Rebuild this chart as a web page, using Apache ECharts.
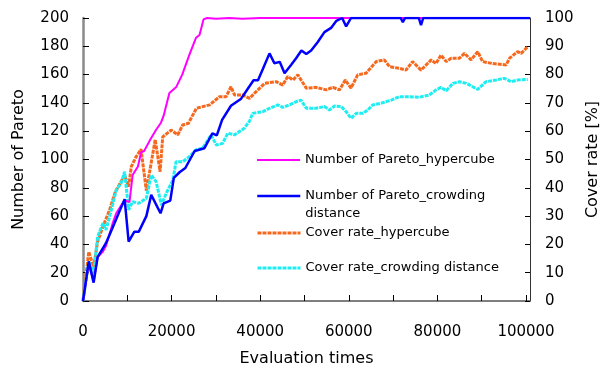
<!DOCTYPE html>
<html>
<head>
<meta charset="utf-8">
<script src="https://cdn.jsdelivr.net/npm/echarts@6/dist/echarts.min.js"></script>
<style>
  html, body { margin: 0; padding: 0; background: #fff; }
  #chart { width: 600px; height: 368px; }
</style>
</head>
<body>
<div id="chart"></div>
<script>
// Series names
const nameHcPareto = 'Number of Pareto_hypercube';
const nameCdPareto = 'Number of Pareto_crowding distance';
const nameHcCover = 'Cover rate_hypercube';
const nameCdCover = 'Cover rate_crowding distance';

// Number of Pareto solutions, hypercube method: [evaluations, count]
const hcPareto = [
  [0, 0], [1300, 26], [2400, 14], [3300, 31], [4500, 35], [5200, 39], [6700, 55],
  [7500, 62], [8500, 67], [9400, 71], [10500, 70], [11200, 89], [12400, 95],
  [13100, 105], [13800, 106], [15000, 113], [16500, 121], [17600, 126], [18200, 131],
  [19500, 147], [21000, 151], [22400, 160], [24000, 174], [25500, 186], [26300, 188],
  [27200, 199], [28000, 200], [30000, 199.5], [33000, 200], [36000, 199.5],
  [40000, 200], [50000, 200], [60000, 200], [80000, 200], [100900, 200]
];

// Number of Pareto solutions, crowding distance method
const cdPareto = [
  [0, 0], [1300, 28], [2400, 13], [3300, 31], [5200, 41], [6700, 52], [9400, 72],
  [10300, 42], [11600, 49], [12600, 49], [14300, 60], [15400, 75], [17500, 62],
  [18200, 69], [19700, 71], [20500, 87], [21800, 91], [23100, 94], [25200, 106],
  [27400, 108], [29200, 118.5], [30200, 117], [31400, 128], [33400, 138], [35700, 143],
  [37200, 150], [38500, 156], [39500, 156], [40600, 164], [42100, 175], [43200, 168],
  [44400, 169], [45500, 161], [47000, 167], [48100, 171.5], [49300, 177], [50400, 174.5],
  [51500, 177], [53000, 183], [54500, 190], [56000, 193], [57200, 198], [58500, 200],
  [59400, 194], [60500, 200], [62000, 200], [71700, 200], [72200, 197], [72700, 200],
  [75800, 200], [76300, 195], [76800, 200], [100900, 200]
];

// Cover rate [%], hypercube method
const hcCover = [
  [0, 0], [1300, 17.4], [2400, 12], [3300, 21], [4500, 26.3], [6000, 32.2], [7300, 38.6],
  [8600, 42.2], [9400, 44.5], [10300, 40.4], [10900, 47.5], [12000, 51], [13100, 53.6],
  [14300, 39], [16300, 57], [17400, 45.7], [18000, 58], [19900, 60.4], [21400, 58.7],
  [22500, 62.2], [23800, 62.8], [24400, 64.6], [25600, 68.1], [26300, 68.4], [28600, 69.3],
  [30800, 72.2], [32300, 72.2], [33400, 75.7], [34200, 72.8], [36100, 72.8], [37600, 71.6],
  [38700, 73.4], [41000, 76.9], [43600, 77.5], [45100, 76.3], [46200, 79.3], [47400, 78.1],
  [48500, 79.9], [50400, 75.2], [52600, 75.5], [54900, 74.6], [56400, 75.5], [57900, 74.6],
  [59200, 78.1], [60500, 75.2], [62000, 79.9], [63900, 80.5], [66200, 84.6], [68000, 85.2],
  [69200, 82.8], [71400, 82.2], [72900, 81.6], [74400, 84.6], [76300, 81.6], [78600, 85.2],
  [79700, 83.9], [80800, 86.9], [82000, 84.6], [83100, 85.8], [85000, 85.8], [86100, 87.5],
  [87600, 85.2], [89100, 88.1], [90200, 84.6], [92500, 83.9], [95500, 83.4], [96300, 85.8],
  [98100, 88.1], [98900, 87.5], [100400, 89.9]
];

// Cover rate [%], crowding distance method
const cdCover = [
  [0, 0], [1300, 13.9], [2400, 9.8], [3300, 22.7], [4500, 27.5], [5200, 25.1], [6400, 32.2],
  [7500, 39.2], [8600, 41.6], [9400, 45.7], [10300, 32.2], [11200, 35.1], [12600, 34.5],
  [14300, 36.3], [15400, 44.5], [16500, 42.2], [17700, 33.9], [18800, 38.1], [20300, 42.8],
  [21000, 49.2], [22500, 49.2], [24000, 51], [25500, 53.4], [27000, 54], [28900, 58.7],
  [30100, 55.1], [31500, 55.7], [32700, 59.3], [34200, 58.7], [36400, 61], [37600, 63.6],
  [38300, 66.3], [40600, 66.9], [42100, 68.1], [44000, 69.3], [45100, 68.4], [46600, 69.3],
  [48100, 70.4], [49200, 71], [50400, 68.1], [52600, 68.1], [54500, 68.7], [55600, 67.5],
  [56800, 68.9], [58300, 68.7], [59400, 66.9], [60500, 64.6], [61700, 66.3], [63200, 66.3],
  [64300, 67.5], [65400, 69.3], [67300, 69.9], [69600, 71], [71400, 72.2], [73700, 72.2],
  [75900, 72], [78200, 72.8], [79700, 74.6], [80800, 75.5], [82000, 74.3], [83500, 76.9],
  [85000, 77.5], [86500, 76.9], [88000, 75.7], [89100, 74.8], [91000, 77.5], [93300, 78.1],
  [95100, 78.7], [96600, 77.5], [98100, 78.1], [100400, 78.3]
];

const FONT = 'DejaVu Sans';
const COVER_DASH = [4, 1];

// One legend block per series so each entry sits at its own height
function legendAt(name, top, lineWidth, extra) {
  return Object.assign({
    data: [name],
    left: 256,
    top: top,
    padding: 0,
    orient: 'vertical',
    itemWidth: 43,
    itemHeight: 14,
    itemGap: 0,
    selectedMode: false,
    itemStyle: { opacity: 0 },
    lineStyle: { width: lineWidth },
    textStyle: { fontFamily: FONT, fontSize: 13, color: '#000', lineHeight: 18 }
  }, extra || {});
}

const chart = echarts.init(document.getElementById('chart'), null, { renderer: 'canvas' });

chart.setOption({
  animation: false,
  backgroundColor: '#fff',
  grid: { left: 83, right: 70, top: 18, bottom: 67, outerBoundsMode: 'none', containLabel: false },
  xAxis: {
    type: 'value',
    min: 0,
    max: 100900,
    interval: 10000,
    name: 'Evaluation times',
    nameLocation: 'middle',
    nameGap: 50,
    nameTextStyle: { fontFamily: FONT, fontSize: 16, color: '#000' },
    axisLine: { show: true, lineStyle: { color: '#555', width: 1.5 } },
    axisTick: { show: true, inside: true, length: 6, lineStyle: { color: '#000' } },
    axisLabel: {
      fontFamily: FONT, fontSize: 15, color: '#000', margin: 24,
      showMaxLabel: false,
      formatter: v => (v % 20000 === 0 && v <= 100000) ? String(v) : ''
    },
    splitLine: { show: false }
  },
  yAxis: [
    {
      type: 'value',
      position: 'left',
      min: 0, max: 200, interval: 20,
      name: 'Number of Pareto',
      nameLocation: 'middle',
      nameGap: 56,
      nameTextStyle: { fontFamily: FONT, fontSize: 16, color: '#000' },
      axisLine: { show: true, lineStyle: { color: '#8a8a8a', width: 2.5 } },
      axisTick: { show: true, inside: true, length: 6, lineStyle: { color: '#000' } },
      axisLabel: { fontFamily: FONT, fontSize: 15, color: '#000', margin: 14 },
      splitLine: { show: false }
    },
    {
      type: 'value',
      position: 'right',
      min: 0, max: 100, interval: 10,
      name: 'Cover rate [%]',
      nameLocation: 'middle',
      nameGap: 54,
      nameRotate: 90,
      nameTextStyle: { fontFamily: FONT, fontSize: 16, color: '#000' },
      axisLine: { show: true, lineStyle: { color: '#333', width: 1 } },
      axisTick: { show: true, inside: true, length: 5, lineStyle: { color: '#000' } },
      axisLabel: { fontFamily: FONT, fontSize: 15, color: '#000', margin: 15 },
      splitLine: { show: false }
    }
  ],
  legend: [
    legendAt(nameHcPareto, 151, 2),
    // leading blank line keeps the sample line level with the first text line
    legendAt(nameCdPareto, 169, 2.5, {
      formatter: () => ' \nNumber of Pareto_crowding\ndistance'
    }),
    legendAt(nameHcCover, 224, 3),
    legendAt(nameCdCover, 259, 3)
  ],
  series: [
    {
      name: nameHcCover, type: 'line', yAxisIndex: 1, data: hcCover,
      symbol: 'none', color: '#F5691E',
      lineStyle: { color: '#F5691E', width: 3, type: COVER_DASH }
    },
    {
      name: nameCdCover, type: 'line', yAxisIndex: 1, data: cdCover,
      symbol: 'none', color: '#1EEEF2',
      lineStyle: { color: '#1EEEF2', width: 3, type: COVER_DASH }
    },
    {
      name: nameHcPareto, type: 'line', yAxisIndex: 0, data: hcPareto,
      symbol: 'none', color: '#FF00FF',
      lineStyle: { color: '#FF00FF', width: 2 }
    },
    {
      name: nameCdPareto, type: 'line', yAxisIndex: 0, data: cdPareto,
      symbol: 'none', color: '#0000FF',
      lineStyle: { color: '#0000FF', width: 2.5 }
    }
  ]
});
</script>
</body>
</html>
